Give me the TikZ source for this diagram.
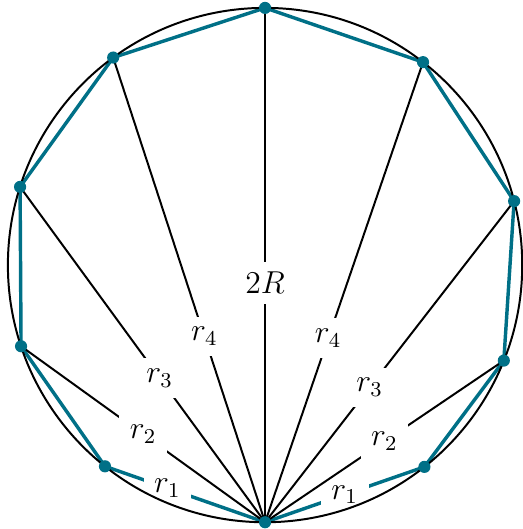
\documentclass[tikz,border=0pt]{standalone}
\usepackage{amsmath}
\usetikzlibrary{calc}
\definecolor{chordteal}{RGB}{0,112,135}

\begin{document}
\begin{tikzpicture}[
    line width=0.75pt,
    chord/.style={chordteal, line width=1.3pt},
    lbl/.style={fill=white, inner sep=4pt, font=\large},
    dot/.style={circle, fill=chordteal, inner sep=0pt, minimum size=4.6pt},
]
    \useasboundingbox (-3.525,-3.51) rectangle (3.43,3.525);
    \def\R{3.42}

    % Points on the circle
    \foreach \name/\ang in {B/-90, L1/-128.5, L2/-161.6, L3/162.3, L4/126.2, T/90,
                            R1/-51.7, R2/-21.8, R3/14.4, R4/52.1}
        \coordinate (\name) at (\ang:\R);

    % Inscribed polygon
    \draw[chord] (L1) -- (L2) -- (L3) -- (L4) -- (T) -- (R4) -- (R3) -- (R2) -- (R1);
    \draw[chord] (B) -- node[lbl, pos=0.61, text=black] {$r_1$} (L1);
    \draw[chord] (B) -- node[lbl, pos=0.5, text=black] {$r_1$} (R1);

    % Chords from the bottom point
    \foreach \p/\t/\l in {L2/0.5/r_2, L3/0.43/r_3, L4/0.4/r_4,
                          R2/0.5/r_2, R3/0.42/r_3, R4/0.4/r_4}
        \draw (B) -- node[lbl, pos=\t] {$\l$} (\p);
    \draw (B) -- node[lbl, pos=0.465] {$2R$} (T);

    \draw (0,0) circle (\R);

    \foreach \name in {B, L1, L2, L3, L4, T, R1, R2, R3, R4}
        \node[dot] at (\name) {};
\end{tikzpicture}
\end{document}
